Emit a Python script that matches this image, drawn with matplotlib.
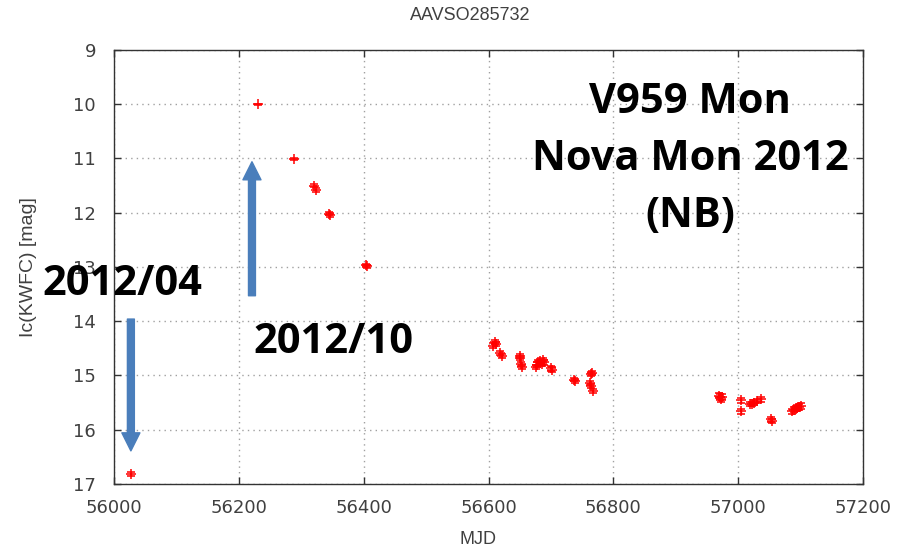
import matplotlib
matplotlib.use("Agg")
import matplotlib.pyplot as plt

# Light curve of V959 Mon (KWFC Ic band)
mjd = [56027,
       56231, 56288, 56320, 56324, 56344, 56346, 56404, 56406,
       56608, 56610, 56612, 56618, 56622,
       56650, 56651, 56652, 56653,
       56676, 56678, 56680, 56682, 56685, 56687, 56689,
       56700, 56701,
       56737, 56739,
       56765, 56766, 56762, 56764, 56768,
       56969, 56971, 56973, 56974,
       57004, 57004,
       57019, 57022, 57026, 57030, 57036,
       57052, 57054,
       57086, 57089, 57092, 57095, 57098, 57100]
mag = [16.82,
       10.00, 11.01, 11.50, 11.58, 12.02, 12.04, 12.97, 12.99,
       14.45, 14.38, 14.42, 14.58, 14.64,
       14.64, 14.68, 14.79, 14.84,
       14.84, 14.80, 14.76, 14.74, 14.78, 14.71, 14.76,
       14.87, 14.89,
       15.08, 15.10,
       14.97, 14.95, 15.14, 15.19, 15.28,
       15.37, 15.40, 15.44, 15.40,
       15.46, 15.66,
       15.52, 15.53, 15.50, 15.47, 15.44,
       15.81, 15.84,
       15.66, 15.63, 15.61, 15.60, 15.58, 15.56]
mag_err = [0.04,
           0.01, 0.01, 0.03, 0.03, 0.03, 0.03, 0.03, 0.03,
           0.04, 0.04, 0.04, 0.04, 0.04,
           0.04, 0.04, 0.04, 0.04,
           0.04, 0.04, 0.04, 0.04, 0.04, 0.04, 0.04,
           0.04, 0.04,
           0.03, 0.03,
           0.04, 0.04, 0.04, 0.04, 0.04,
           0.05, 0.05, 0.05, 0.05,
           0.05, 0.05,
           0.04, 0.04, 0.04, 0.04, 0.04,
           0.04, 0.04,
           0.05, 0.05, 0.05, 0.05, 0.05, 0.05]

x_ticks = [56000, 56200, 56400, 56600, 56800, 57000, 57200]
y_ticks = [9, 10, 11, 12, 13, 14, 15, 16, 17]

title = "AAVSO285732"
x_label = "MJD"
y_label = "Ic(KWFC) [mag]"
star_label = "V959 Mon\nNova Mon 2012\n(NB)"

fig = plt.figure(figsize=(9.13, 5.53), dpi=100)
ax = fig.add_axes([0.1249, 0.1248, 0.8203, 0.7848])

ax.errorbar(mjd, mag, yerr=mag_err, fmt='+', color='red', ecolor='red',
            markersize=6.5, markeredgewidth=1.1, elinewidth=1.0,
            capsize=3, capthick=1.0, zorder=3)

ax.set_xlim(56000, 57200)
ax.set_ylim(17, 9)
ax.set_xticks(x_ticks)
ax.set_yticks(y_ticks)

tick_color = '#404040'
ax.tick_params(direction='in', length=5, width=1, colors='#333333',
               top=True, right=True, labelcolor=tick_color, labelsize=13)
ax.tick_params(axis='y', pad=13)
ax.tick_params(axis='x', pad=11)
for lbl in ax.get_xticklabels() + ax.get_yticklabels():
    lbl.set_family('DejaVu Sans')

for s in ax.spines.values():
    s.set_color('#333333')
    s.set_linewidth(1.0)

ax.grid(True, color='#a0a0a0', linestyle=(0, (1, 3)), linewidth=1.0)
ax.set_axisbelow(True)

label_font = dict(color=tick_color, family='Liberation Sans')
fig.text(470 / 913, 1 - 15 / 553, title, fontsize=13, ha='center', va='center', **label_font)
ax.set_xlabel(x_label, fontsize=13, **label_font)
ax.set_ylabel(y_label, fontsize=14, **label_font)
ax.xaxis.set_label_coords((478 - 114) / 749, -(540 - 484) / 434)
ax.yaxis.set_label_coords(-(114 - 28) / 749, 0.5)
ax.xaxis.label.set_va('center')
ax.yaxis.label.set_va('center')

# Annotation arrows and labels
arrow_kw = dict(arrowstyle='simple,head_length=0.65,head_width=0.65,tail_width=0.25',
                color='#4a7ebb', shrinkA=0, shrinkB=0, mutation_scale=20)
ax.annotate('', xy=(56221, 11.06), xytext=(56221, 13.53), arrowprops=arrow_kw)
ax.annotate('', xy=(56027, 16.39), xytext=(56027, 13.96), arrowprops=arrow_kw)

bold_kw = dict(fontsize=30, fontweight='bold', family='Open Sans', color='black',
               ha='center', va='center', clip_on=False, zorder=5)
ax.text(56014, 13.33, "2012/04", **bold_kw)
ax.text(56352, 14.40, "2012/10", **bold_kw)
ax.text(56923, 11.02, star_label, linespacing=1.52, multialignment='center', **bold_kw)

fig.savefig("out.png", dpi=100)
